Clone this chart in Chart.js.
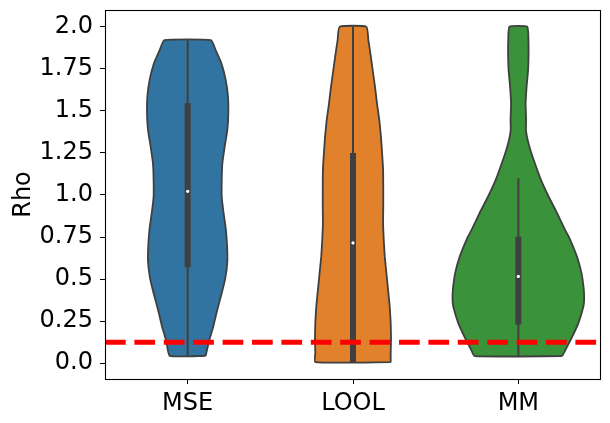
<!DOCTYPE html>
<html>
<head>
<meta charset="utf-8">
<script src="https://cdn.jsdelivr.net/npm/chart.js@4.4.1/dist/chart.umd.min.js"></script>
<style>
html, body { margin: 0; padding: 0; background: #fff; }
#wrap { width: 610px; height: 423px; }
</style>
</head>
<body>
<div id="wrap"><canvas id="graphe" width="610" height="423"></canvas></div>
<script>
// categories and axis ticks
const categories = ["MSE", "LOOL", "MM"];
const yTicks = [0, 0.25, 0.5, 0.75, 1, 1.25, 1.5, 1.75, 2];
const yTickLabels = ["0.0", "0.25", "0.5", "0.75", "1.0", "1.25", "1.5", "1.75", "2.0"];
const seuil = 0.125; // red dashed line

// violin outlines: Rho level -> half width (in category units)
const mseY  = [0.044, 0.131, 0.21, 0.309, 0.408, 0.507, 0.605, 0.704, 0.804, 0.902, 0.991, 1.09, 1.189, 1.288, 1.387, 1.486, 1.585, 1.684, 1.783, 1.862, 1.92];
const mseHW = [0.109, 0.129, 0.153, 0.177, 0.204, 0.228, 0.240, 0.238, 0.230, 0.216, 0.206, 0.206, 0.210, 0.224, 0.240, 0.246, 0.244, 0.230, 0.204, 0.169, 0.141];

const loolY  = [0.006, 0.062, 0.141, 0.24, 0.338, 0.437, 0.537, 0.635, 0.734, 0.833, 0.932, 1.05, 1.15, 1.249, 1.347, 1.446, 1.545, 1.644, 1.743, 1.842, 1.921, 2.0];
const loolHW = [0.228, 0.228, 0.230, 0.228, 0.222, 0.212, 0.202, 0.192, 0.186, 0.182, 0.183, 0.183, 0.182, 0.176, 0.169, 0.159, 0.145, 0.133, 0.119, 0.105, 0.093, 0.081];

const mmY  = [0.042, 0.081, 0.141, 0.24, 0.338, 0.378, 0.437, 0.537, 0.635, 0.744, 0.794, 0.893, 0.991, 1.09, 1.189, 1.268, 1.328, 1.387, 1.446, 1.545, 1.644, 1.743, 1.842, 1.921, 2.0];
const mmHW = [0.265, 0.286, 0.318, 0.364, 0.394, 0.398, 0.396, 0.382, 0.354, 0.309, 0.282, 0.234, 0.183, 0.137, 0.100, 0.073, 0.056, 0.046, 0.047, 0.044, 0.050, 0.059, 0.062, 0.061, 0.054];

// inner box stats per category
const whiskerLow  = [0.044, 0.006, 0.042];
const q1          = [0.570, 0.006, 0.230];
const median      = [1.022, 0.715, 0.516];
const q3          = [1.545, 1.249, 0.752];
const whiskerHigh = [1.920, 2.000, 1.100];

const couleurs = ["#3274a1", "#e1812c", "#3a923a"];
const gris = "#3f3f3f";

function violin(center, ys, hws) {
    let pts = [];
    for (let i = 0; i < ys.length; i++) pts.push({x: center + hws[i], y: ys[i]});
    for (let i = ys.length - 1; i >= 0; i--) pts.push({x: center - hws[i], y: ys[i]});
    pts.push(pts[0]);
    return pts;
}

const shapes = [[mseY, mseHW], [loolY, loolHW], [mmY, mmHW]];
let datasets = [];

datasets.push({
    data: [{x: -0.5, y: seuil}, {x: 2.5, y: seuil}],
    borderColor: "#ff0000", borderWidth: 5, borderDash: [20.7, 8.7],
    borderCapStyle: "butt", pointRadius: 0, fill: false, order: 0
});

for (let i = 0; i < categories.length; i++) {
    datasets.push({
        data: [{x: i, y: median[i]}],
        showLine: false, pointRadius: 1.6, pointBackgroundColor: "#fff",
        pointBorderWidth: 0, order: 1
    });
    datasets.push({
        data: [{x: i, y: q1[i]}, {x: i, y: q3[i]}],
        borderColor: gris, borderWidth: 6, borderCapStyle: "butt",
        pointRadius: 0, fill: false, order: 2
    });
    datasets.push({
        data: [{x: i, y: whiskerLow[i]}, {x: i, y: whiskerHigh[i]}],
        borderColor: gris, borderWidth: 2, borderCapStyle: "butt",
        pointRadius: 0, fill: false, order: 3
    });
    datasets.push({
        data: violin(i, shapes[i][0], shapes[i][1]),
        borderColor: gris, borderWidth: 1.8, backgroundColor: couleurs[i],
        fill: "shape", tension: 0.15, pointRadius: 0, order: 4
    });
}

const cadre = {
    id: "cadre",
    afterDraw(chart) {
        const {ctx, chartArea: a} = chart;
        ctx.save();
        ctx.strokeStyle = "#000";
        ctx.lineWidth = 1.1;
        ctx.strokeRect(a.left + 0.5, a.top + 0.5, a.right - a.left - 1, a.bottom - a.top);
        ctx.restore();
    }
};

Chart.defaults.font.family = "DejaVu Sans";
Chart.defaults.color = "#000";

const police = {family: "DejaVu Sans", size: 24};

new Chart(document.getElementById("graphe"), {
    type: "line",
    data: {datasets: datasets},
    options: {
        responsive: false,
        animation: false,
        events: [],
        layout: {padding: {left: 0, right: 9, top: 10, bottom: 0}},
        plugins: {legend: {display: false}, tooltip: {enabled: false}},
        scales: {
            x: {
                type: "linear", min: -0.5, max: 2.5,
                afterBuildTicks: s => { s.ticks = categories.map((c, i) => ({value: i})); },
                ticks: {callback: (v, i) => categories[i], autoSkip: false, maxRotation: 0, font: police, color: "#000", padding: 5},
                grid: {drawOnChartArea: false, drawTicks: true, tickLength: 5, tickColor: "#000", tickWidth: 1},
                border: {display: false},
                afterFit: s => { s.height = 44; s.paddingLeft = 0; s.paddingRight = 0; }
            },
            y: {
                type: "linear", min: -0.094, max: 2.0997,
                afterBuildTicks: s => { s.ticks = yTicks.map(v => ({value: v})); },
                ticks: {callback: (v, i) => yTickLabels[i], autoSkip: false, font: police, color: "#000", padding: 7},
                grid: {drawOnChartArea: false, drawTicks: true, tickLength: 5, tickColor: "#000", tickWidth: 1},
                border: {display: false},
                title: {display: true, text: "Rho", font: police, color: "#000", padding: {top: 9, bottom: 0}},
                afterFit: s => { s.width = 105; s.paddingTop = 0; s.paddingBottom = 0; }
            }
        }
    },
    plugins: [cadre]
});
</script>
</body>
</html>
